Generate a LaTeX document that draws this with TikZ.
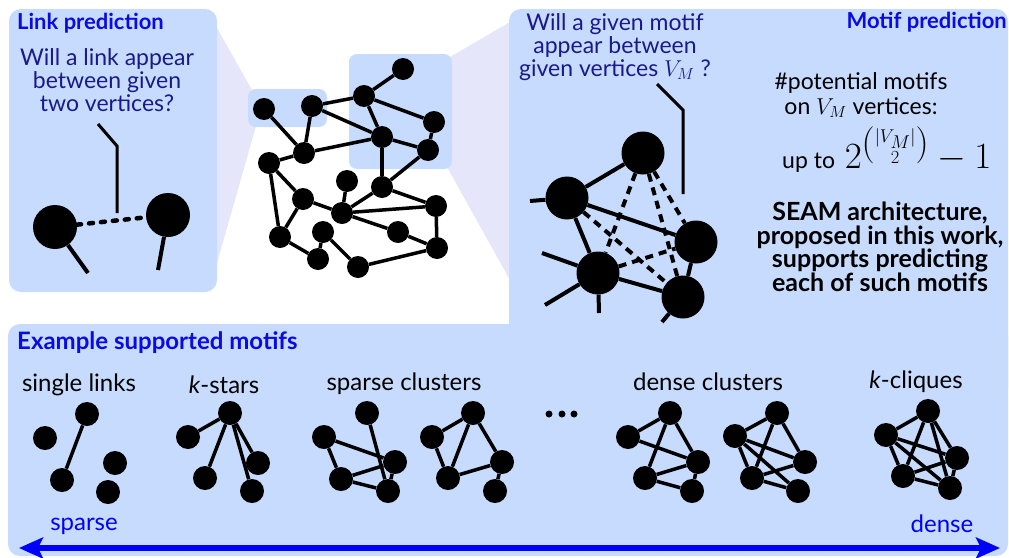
\RequirePackage{fix-cm}
\documentclass[tikz,border=0pt]{standalone}
\usepackage{fontspec}
\setmainfont{Lato}
\usepackage{amsmath}
\usetikzlibrary{arrows.meta}
\definecolor{panel}{RGB}{198,219,253}
\definecolor{lav}{RGB}{230,230,250}
\definecolor{ttl}{RGB}{10,10,230}
\definecolor{qnav}{RGB}{25,25,140}
\definecolor{arrowblue}{RGB}{0,0,255}
\begin{document}
\begin{tikzpicture}[x=1pt,y=-1pt,
  dot/.style={circle,fill=black,inner sep=0pt,minimum size=22pt},
  sdot/.style={circle,fill=black,inner sep=0pt,minimum size=24pt},
  bdot/.style={circle,fill=black,inner sep=0pt,minimum size=43pt},
  edge/.style={line width=3.5pt},
  dedge/.style={line width=4pt,dash pattern=on 8pt off 6pt},
  lead/.style={line width=3pt},
  ttltext/.style={font=\fontsize{22}{24}\selectfont\bfseries,text=ttl,inner sep=0pt},
  qtext/.style={font=\fontsize{23}{22.8}\selectfont,text=qnav,align=center,inner sep=0pt},
  btext/.style={font=\fontsize{23}{25}\selectfont,text=black,align=center,inner sep=0pt},
  ctext/.style={font=\fontsize{24}{26}\selectfont,text=black,align=center,inner sep=0pt},
  bbtext/.style={font=\fontsize{25}{23.5}\selectfont\bfseries,text=black,align=center,inner sep=0pt},
  ptext/.style={font=\fontsize{24}{26}\selectfont,text=arrowblue,inner sep=0pt},
  pbox/.style={fill=panel,rounded corners=12pt},
  hbox/.style={fill=panel,rounded corners=8pt}]
\useasboundingbox[fill=white] (0,0) rectangle (1009,557);
% funnels
\fill[lav] (217,28) -- (252,90) -- (256,126) -- (217,263) -- cycle;
\fill[lav] (450,57) -- (510,22) -- (510,280) -- (447,167) -- cycle;
% panels
\fill[pbox] (9,9) rectangle (217,292);
\fill[pbox] (509,9) rectangle (1008,400);
\fill[pbox] (8,324) rectangle (1008,556);
\fill[hbox] (248,89) rectangle (327,127);
\fill[hbox] (349,54) rectangle (452,169);

% ---------- Link prediction ----------
\node[ttltext,anchor=west] (lptitle) at (17,23) {Link prediction};
\node[qtext] (lpq) at (107,80) {Will a link appear\\between given\\two vertices?};
\node[bdot,minimum size=44pt] (la) at (55,227) {};
\node[bdot,minimum size=44pt] (lb) at (168,215) {};
\coordinate (lq1) at (98,124);
\coordinate (lq2) at (117,146);
\coordinate (lq3) at (117,213);
\draw[lead] (lq1) -- (lq2) -- (lq3);
\draw[line width=4.5pt,line cap=round,dash pattern=on 4pt off 8pt] (la) -- (lb);
\coordinate (las) at (88,273);
\coordinate (lbs) at (158,270);
\draw[line width=4pt] (la) -- (las);
\draw[line width=4pt] (lb) -- (lbs);

% ---------- Central graph ----------
\node[dot] (g1) at (264,109) {};
\node[dot] (g2) at (312,106) {};
\node[dot] (g3) at (364,96) {};
\node[dot] (g4) at (403,69) {};
\node[dot] (g5) at (434,122) {};
\node[dot] (g6) at (382,137) {};
\node[dot] (g7) at (428,150) {};
\node[dot] (g8) at (304,153) {};
\node[dot] (g9) at (269,163) {};
\node[dot] (g10) at (347,181) {};
\node[dot] (g11) at (382,187) {};
\node[dot] (g12) at (303,199) {};
\node[dot] (g13) at (342,213) {};
\node[dot] (g14) at (436,206) {};
\node[dot] (g15) at (280,237) {};
\node[dot] (g16) at (323,232) {};
\node[dot] (g17) at (398,232) {};
\node[dot] (g18) at (318,259) {};
\node[dot] (g19) at (358,267) {};
\node[dot] (g20) at (437,248) {};
\foreach \a/\b in {g1/g8,g2/g8,g2/g3,g2/g6,g3/g4,g3/g5,g3/g6,g5/g7,g6/g7,g8/g6,
  g9/g8,g9/g12,g9/g15,g6/g11,g7/g11,g11/g14,g11/g13,g13/g14,g10/g13,g12/g13,
  g12/g15,g13/g17,g17/g20,g14/g20,g15/g18,g16/g18,g16/g19,g19/g20}
  \draw[edge] (\a) -- (\b);

% ---------- Motif prediction ----------
\node[ttltext,anchor=east] (mptitle) at (1007,22) {Motif prediction};
\node[qtext] (mpq) at (615,47) {Will a given motif\\appear between\\given vertices $V_M$ ?};
\coordinate (mq1) at (657,84);
\coordinate (mq2) at (683,110);
\coordinate (mq3) at (683,194);
\draw[lead] (mq1) -- (mq2) -- (mq3);
\node[btext] (pot) at (861,95) {\#potential motifs\\on $V_M$ vertices:};
\node[btext,anchor=base west] (upto) at (782,168) {up to\, \fontsize{37}{39}\selectfont$2^{\binom{|V_M|}{2}}-1$};
\node[bbtext] (seam) at (880,247) {SEAM architecture,\\proposed in this work,\\supports predicting\\each of such motifs};
\node[bdot] (ma) at (643,153) {};
\node[bdot] (mb) at (567,198) {};
\node[bdot] (mc) at (696,242) {};
\node[bdot] (md) at (598,273) {};
\node[bdot] (me) at (683,297) {};
\foreach \a/\b in {ma/mb,mb/mc,mb/md,md/me,mc/me}
  \draw[line width=4pt] (\a) -- (\b);
\foreach \a/\b in {ma/md,ma/mc,ma/me,mb/me,md/mc}
  \draw[dedge] (\a) -- (\b);
\coordinate (mbs) at (530,201);
\coordinate (mds1) at (542,253);
\coordinate (mds2) at (545,305);
\coordinate (mds3) at (599,313);
\coordinate (mes) at (662,322);
\draw[line width=4pt] (mb) -- (mbs);
\draw[line width=4pt] (md) -- (mds1);
\draw[line width=4pt] (md) -- (mds2);
\draw[line width=4pt] (md) -- (mds3);
\draw[line width=4pt] (me) -- (mes);

% ---------- Example supported motifs ----------
\node[ttltext,font=\fontsize{24}{26}\selectfont\bfseries,anchor=west] (extitle) at (17,343) {Example supported motifs};
\node[ctext] (lsl) at (79,385) {single links};
\node[ctext] (lks) at (224,385) {\textit{k}-stars};
\node[ctext] (lsc) at (404,384) {sparse clusters};
\node[ctext] (ldc) at (708,382) {dense clusters};
\node[ctext] (lkc) at (916,382) {\textit{k}-cliques};

% single links
\node[sdot] (s1) at (87,414) {};
\node[sdot] (s2) at (45,438) {};
\node[sdot] (s3) at (62,480) {};
\node[sdot] (s4) at (115,463) {};
\node[sdot] (s5) at (108,492) {};
\draw[edge] (s1) -- (s3);

% k-stars
\node[sdot] (k1) at (230,413) {};
\node[sdot] (k2) at (188,437) {};
\node[sdot] (k3) at (205,478) {};
\node[sdot] (k4) at (258,463) {};
\node[sdot] (k5) at (252,491) {};
\foreach \b in {k2,k3,k4,k5} \draw[edge] (k1) -- (\b);

% sparse cluster 1
\node[sdot] (pa) at (367,413) {};
\node[sdot] (pb) at (324,437) {};
\node[sdot] (pc) at (395,462) {};
\node[sdot] (pd) at (341,479) {};
\node[sdot] (pe) at (388,491) {};
\foreach \a/\b in {pa/pe,pb/pc,pb/pd,pd/pc,pd/pe,pc/pe} \draw[edge] (\a) -- (\b);

% sparse cluster 2
\node[sdot] (qa) at (473,413) {};
\node[sdot] (qb) at (432,437) {};
\node[sdot] (qc) at (502,462) {};
\node[sdot] (qd) at (448,478) {};
\node[sdot] (qe) at (495,491) {};
\foreach \a/\b in {qb/qa,qa/qd,qa/qc,qb/qd,qd/qc,qc/qe} \draw[edge] (\a) -- (\b);

% ellipsis
\node[circle,fill=black,inner sep=0pt,minimum size=7pt] (el1) at (549,414) {};
\node[circle,fill=black,inner sep=0pt,minimum size=7pt] (el2) at (562,414) {};
\node[circle,fill=black,inner sep=0pt,minimum size=7pt] (el3) at (574,414) {};

% dense cluster 1
\node[sdot] (da) at (670,413) {};
\node[sdot] (db) at (628,437) {};
\node[sdot] (dc) at (698,462) {};
\node[sdot] (dd) at (645,478) {};
\node[sdot] (de) at (692,491) {};
\foreach \a/\b in {db/da,da/dd,da/dc,db/dc,dd/dc,dd/de,dc/de} \draw[edge] (\a) -- (\b);

% dense cluster 2
\node[sdot] (ea) at (777,413) {};
\node[sdot] (eb) at (735,436) {};
\node[sdot] (ec) at (805,462) {};
\node[sdot] (ed) at (752,478) {};
\node[sdot] (ee) at (798,491) {};
\foreach \a/\b in {eb/ea,ea/ed,ea/ec,eb/ec,eb/ed,eb/ee,ed/ec,ed/ee} \draw[edge] (\a) -- (\b);

% k-cliques
\node[sdot] (ca) at (928,411) {};
\node[sdot] (cb) at (886,435) {};
\node[sdot] (cc) at (957,458) {};
\node[sdot] (cd) at (903,476) {};
\node[sdot] (ce) at (950,488) {};
\foreach \a/\b in {ca/cb,ca/cc,ca/cd,ca/ce,cb/cc,cb/cd,cb/ce,cc/cd,cc/ce,cd/ce} \draw[edge] (\a) -- (\b);

% sparse -> dense arrow
\node[ptext] (sp) at (84,526) {sparse};
\node[ptext] (de2) at (942,524) {dense};
\coordinate (arl) at (19,548);
\coordinate (arr) at (1000,548);
\draw[arrowblue,line width=6.5pt,{Stealth[length=24pt,width=21pt,inset=5pt]}-{Stealth[length=24pt,width=21pt,inset=5pt]}] (arl) -- (arr);
\end{tikzpicture}
\end{document}
